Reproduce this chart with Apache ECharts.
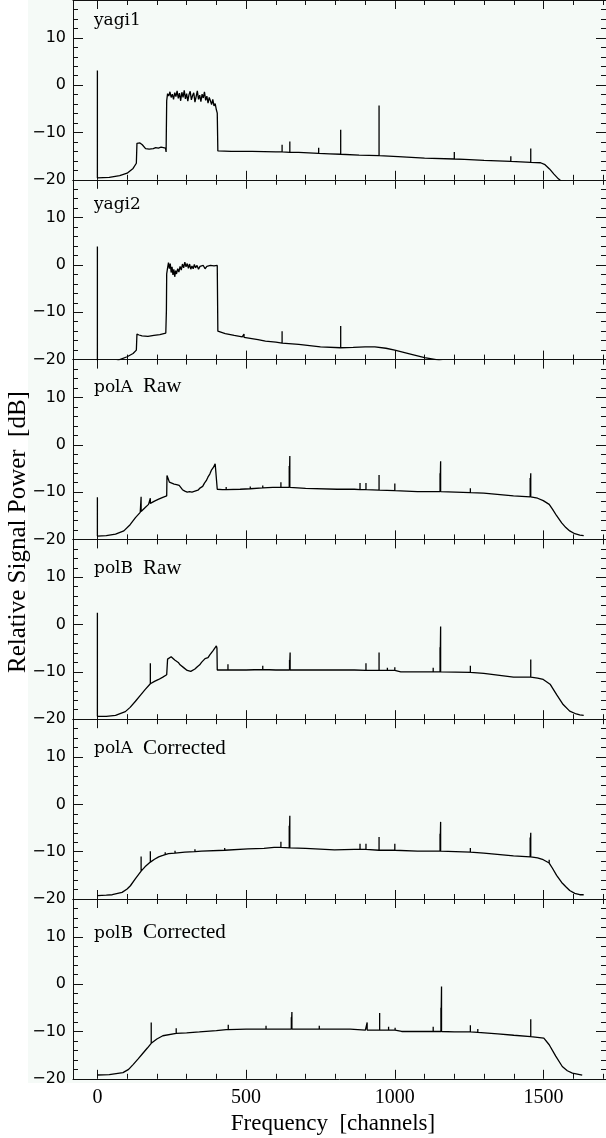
<!DOCTYPE html>
<html>
<head>
<meta charset="utf-8">
<script src="https://cdn.jsdelivr.net/npm/echarts@6/dist/echarts.min.js"></script>
<style>
html,body{margin:0;padding:0;background:#ffffff;}
#chart{width:606px;height:1138px;}
</style>
</head>
<body>
<div id="chart"></div>
<script>
// ---- data: [channel, dB] ----
const panelNames = ['yagi1', 'yagi2', 'polA', 'polB', 'polA', 'polB'];
const panelSuffix = ['', '', 'Raw', 'Raw', 'Corrected', 'Corrected'];
const xTickLabels = [0, 500, 1000, 1500];

const yagi1 = [[0,-19.6],[0,3.1],[0,-19.6],[40,-19.5],[75,-19.1],[100,-18.6],[120,-17.6],[131,-16.5],[133,-12.3],[138,-12.5],[143,-12.2],[147,-11.9],[151,-12.6],[156,-13.0],[162,-13.4],[168,-13.2],[174,-13.5],[180,-13.3],[188,-13.4],[196,-13.2],[205,-13.3],[214,-13.1],[222,-13.2],[229,-13.3],[231,-14.1],[233,-3.3],[236,-1.8],[240,-2.3],[244,-1.4],[248,-2.6],[252,-1.9],[256,-3.0],[260,-1.6],[264,-2.4],[268,-1.2],[272,-2.8],[276,-1.7],[280,-3.3],[284,-1.5],[288,-2.6],[292,-1.1],[296,-2.9],[300,-1.8],[304,-3.4],[308,-2.0],[312,-1.3],[316,-3.1],[320,-2.2],[324,-1.6],[328,-3.6],[332,-2.4],[336,-1.2],[340,-3.0],[344,-2.1],[348,-3.5],[352,-1.9],[356,-2.7],[360,-1.4],[364,-3.2],[368,-2.3],[372,-3.8],[376,-2.6],[380,-3.3],[384,-4.1],[388,-3.0],[392,-4.4],[396,-3.9],[400,-5.2],[403,-5.9],[405,-13.9],[450,-14.0],[520,-14.0],[600,-14.1],[621,-14.1],[621,-12.6],[621,-14.1],[647,-14.2],[647,-11.9],[647,-14.2],[677,-14.2],[744,-14.4],[744,-13.2],[744,-14.4],[780,-14.5],[818,-14.6],[818,-9.4],[818,-14.6],[880,-14.8],[947,-14.9],[947,-4.3],[947,-14.9],[1011,-15.1],[1100,-15.4],[1200,-15.6],[1200,-14.1],[1200,-15.6],[1234,-15.7],[1300,-15.9],[1390,-16.1],[1390,-15.0],[1390,-16.1],[1457,-16.3],[1457,-13.4],[1457,-16.3],[1490,-16.4],[1505,-16.8],[1520,-17.7],[1535,-18.8],[1550,-19.8],[1560,-20.3],[1700,-21]];

const yagi2 = [[0,-21],[0,3.9],[0,-21],[50,-21],[75,-20.0],[100,-19.4],[120,-18.7],[131,-18.0],[133,-14.6],[140,-14.8],[150,-15.0],[170,-15.1],[190,-14.9],[210,-14.7],[230,-14.4],[232,-9.7],[233,-1.9],[236,-0.6],[239,0.5],[242,-0.8],[245,0.3],[248,-1.6],[251,-0.4],[254,-2.1],[257,-0.9],[260,-2.5],[263,-1.2],[266,-1.9],[270,-0.8],[274,-1.5],[278,-0.3],[282,-1.1],[286,0.2],[290,-0.6],[294,0.6],[298,-0.4],[302,0.3],[306,-0.7],[310,0.2],[314,-0.9],[318,-0.2],[322,-0.8],[326,0.1],[330,-0.6],[335,-0.1],[340,-0.9],[345,-0.3],[350,-0.7],[356,-0.1],[362,-0.8],[368,-0.3],[374,-0.6],[380,-0.1],[386,-0.5],[392,-0.2],[398,-0.4],[403,-0.1],[405,-14.0],[430,-14.5],[460,-14.9],[487,-15.2],[493,-15.3],[493,-14.6],[493,-15.3],[540,-15.8],[565,-16.1],[600,-16.3],[621,-16.5],[621,-14.0],[621,-16.5],[677,-16.8],[750,-17.3],[818,-17.5],[818,-12.9],[818,-17.5],[860,-17.4],[900,-17.3],[933,-17.3],[970,-17.6],[1000,-18.0],[1056,-18.9],[1100,-19.6],[1139,-20.0],[1170,-20.6],[1700,-21]];

const polARaw = [[0,-19.3],[0,-11.1],[0,-19.3],[30,-19.2],[61,-18.9],[89,-18.2],[110,-16.9],[128,-15.4],[144,-14.3],[147,-14.1],[147,-11.0],[147,-14.1],[160,-13.3],[172,-12.6],[178,-12.4],[178,-11.3],[178,-12.4],[192,-11.9],[206,-11.5],[220,-11.1],[233,-10.8],[234,-6.5],[238,-7.2],[242,-7.9],[246,-7.5],[250,-8.1],[254,-7.7],[258,-8.3],[262,-7.9],[266,-8.4],[270,-8.0],[275,-8.6],[280,-8.9],[286,-9.5],[294,-9.8],[302,-10.0],[310,-9.9],[318,-10.0],[328,-9.8],[338,-9.6],[346,-9.1],[354,-8.8],[360,-8.1],[366,-7.6],[372,-6.8],[378,-6.2],[384,-5.3],[390,-4.8],[396,-4.0],[400,-3.7],[402,-4.2],[403,-9.4],[420,-9.5],[433,-9.5],[433,-8.9],[433,-9.5],[480,-9.4],[514,-9.3],[514,-8.8],[514,-9.3],[556,-9.1],[556,-8.6],[556,-9.1],[590,-9.0],[617,-9.0],[617,-7.9],[617,-9.0],[645,-9.0],[645,-4.5],[645,-9.0],[647,-9.0],[647,-2.4],[647,-9.0],[700,-9.2],[806,-9.4],[864,-9.4],[883,-9.5],[883,-8.1],[883,-9.5],[903,-9.5],[903,-8.1],[903,-9.5],[947,-9.6],[947,-6.4],[947,-9.6],[1000,-9.7],[1000,-8.2],[1000,-9.7],[1076,-9.9],[1152,-9.9],[1152,-6.0],[1152,-9.9],[1154,-9.9],[1154,-3.5],[1154,-9.9],[1254,-10.1],[1254,-9.2],[1254,-10.1],[1299,-10.2],[1399,-10.8],[1455,-11.0],[1455,-7.0],[1455,-11.0],[1457,-11.0],[1457,-6.0],[1457,-11.0],[1480,-11.3],[1499,-11.8],[1519,-12.6],[1530,-13.6],[1544,-15.0],[1561,-16.5],[1575,-17.5],[1588,-18.2],[1605,-18.8],[1622,-19.1],[1635,-19.2]];

const polBRaw = [[0,-19.4],[0,2.5],[0,-19.4],[30,-19.4],[61,-19.2],[94,-18.4],[110,-17.5],[128,-16.2],[145,-14.9],[161,-13.7],[178,-12.5],[178,-8.2],[178,-12.5],[192,-12.0],[206,-11.6],[220,-11.1],[233,-10.6],[236,-7.3],[242,-7.0],[248,-6.8],[254,-7.2],[260,-7.5],[266,-7.8],[272,-8.0],[278,-8.5],[284,-8.7],[290,-9.1],[296,-9.4],[302,-9.7],[308,-10.1],[314,-9.9],[320,-9.7],[328,-9.4],[336,-8.9],[344,-8.5],[350,-8.0],[356,-7.8],[362,-7.2],[368,-7.4],[372,-7.0],[378,-6.4],[384,-6.1],[389,-5.5],[394,-5.2],[400,-4.5],[402,-5.0],[403,-9.6],[420,-9.6],[439,-9.6],[439,-8.4],[439,-9.6],[500,-9.6],[556,-9.5],[556,-8.7],[556,-9.5],[600,-9.6],[646,-9.6],[646,-7.5],[646,-9.6],[648,-9.6],[648,-5.9],[648,-9.6],[700,-9.6],[806,-9.6],[864,-9.6],[903,-9.7],[903,-8.2],[903,-9.7],[947,-9.7],[947,-5.9],[947,-9.7],[975,-9.7],[975,-9.1],[975,-9.7],[1000,-9.7],[1000,-9.0],[1000,-9.7],[1020,-10.0],[1129,-10.0],[1129,-9.1],[1129,-10.0],[1152,-10.0],[1152,-4.8],[1152,-10.0],[1154,-10.0],[1154,-0.4],[1154,-10.0],[1254,-10.1],[1254,-8.7],[1254,-10.1],[1299,-10.3],[1399,-11.1],[1457,-11.1],[1457,-7.4],[1457,-11.1],[1480,-11.3],[1499,-11.6],[1522,-12.6],[1544,-14.8],[1566,-16.9],[1588,-18.3],[1610,-18.9],[1622,-19.1],[1635,-19.2]];

const polACorr = [[0,-19.3],[30,-19.2],[50,-19.1],[83,-18.6],[100,-17.9],[111,-17.2],[128,-15.7],[147,-14.1],[147,-11.0],[147,-14.1],[160,-13.2],[178,-12.2],[178,-9.9],[178,-12.2],[192,-11.6],[206,-11.1],[220,-10.8],[228,-10.6],[228,-10.1],[228,-10.6],[239,-10.4],[261,-10.3],[261,-9.8],[261,-10.3],[294,-10.1],[328,-10.0],[328,-9.5],[328,-10.0],[350,-9.9],[428,-9.7],[428,-9.2],[428,-9.7],[506,-9.4],[560,-9.3],[594,-9.1],[617,-9.1],[617,-7.9],[617,-9.1],[645,-9.2],[645,-4.5],[645,-9.2],[647,-9.2],[647,-2.4],[647,-9.2],[700,-9.3],[797,-9.6],[864,-9.5],[883,-9.5],[883,-8.3],[883,-9.5],[903,-9.5],[903,-8.3],[903,-9.5],[947,-9.7],[947,-6.9],[947,-9.7],[1000,-9.7],[1000,-8.3],[1000,-9.7],[1076,-9.9],[1152,-9.9],[1152,-6.2],[1152,-9.9],[1154,-9.9],[1154,-3.7],[1154,-9.9],[1254,-10.1],[1254,-9.2],[1254,-10.1],[1299,-10.3],[1399,-10.9],[1455,-11.1],[1455,-7.0],[1455,-11.1],[1457,-11.1],[1457,-6.0],[1457,-11.1],[1480,-11.3],[1499,-11.7],[1519,-12.4],[1519,-11.7],[1519,-12.4],[1530,-13.5],[1544,-15.0],[1561,-16.5],[1575,-17.4],[1588,-18.2],[1605,-18.8],[1622,-19.1],[1635,-19.1]];

const polBCorr = [[0,-19.2],[40,-19.1],[86,-18.7],[105,-18.0],[120,-17.0],[137,-15.8],[153,-14.6],[168,-13.5],[181,-12.5],[181,-8.1],[181,-12.5],[200,-11.6],[220,-10.9],[265,-10.4],[265,-9.3],[265,-10.4],[300,-10.3],[343,-10.1],[400,-9.8],[433,-9.6],[440,-9.6],[440,-8.6],[440,-9.6],[500,-9.5],[567,-9.5],[567,-8.8],[567,-9.5],[620,-9.5],[652,-9.5],[652,-7.0],[652,-9.5],[654,-9.5],[654,-5.9],[654,-9.5],[700,-9.5],[746,-9.5],[746,-8.8],[746,-9.5],[850,-9.5],[901,-9.7],[907,-9.7],[907,-8.1],[907,-9.7],[949,-9.7],[949,-6.1],[949,-9.7],[979,-9.7],[979,-9.0],[979,-9.7],[1001,-9.7],[1001,-9.2],[1001,-9.7],[1023,-10.0],[1100,-10.0],[1129,-10.0],[1129,-9.0],[1129,-10.0],[1155,-10.0],[1155,-5.0],[1155,-10.0],[1157,-10.0],[1157,-0.5],[1157,-10.0],[1200,-10.1],[1254,-10.1],[1254,-8.7],[1254,-10.1],[1279,-10.2],[1279,-9.5],[1279,-10.2],[1346,-10.5],[1400,-10.8],[1457,-11.1],[1457,-7.4],[1457,-11.1],[1501,-11.4],[1519,-12.8],[1541,-15.2],[1563,-17.4],[1580,-18.3],[1597,-18.8],[1630,-19.2]];

const seriesData = [yagi1, yagi2, polARaw, polBRaw, polACorr, polBCorr];

// ---- layout ----
const X_MIN = -82, X_MAX = 1710, Y_MIN = -20, Y_MAX = 18;
const GRID_LEFT = 73, GRID_W = 536, PANEL_H = 179.8;
const labelMid = [20.7, 204.7, 387.3, 569, 749, 933.3];
const INK = '#111';

const grids = [], xAxes = [], yAxes = [], series = [];
const minus = v => v < 0 ? '\u2212' + (-v) : String(v);

for (let k = 0; k < 6; k++) {
  grids.push({left: GRID_LEFT, top: k * PANEL_H, width: GRID_W, height: PANEL_H, containLabel: false});
  const last = k === 5;
  const xBase = {
    type: 'value', gridIndex: k, min: X_MIN, max: X_MAX, splitNumber: 4,
    axisLine: {show: true, onZero: false, lineStyle: {color: INK, width: 1}},
    axisTick: {show: true, inside: true, length: 9, lineStyle: {color: INK, width: 1}},
    minorTick: {show: true, splitNumber: 5, length: 5, lineStyle: {color: INK, width: 1}},
    splitLine: {show: false}, minorSplitLine: {show: false}
  };
  xAxes.push(Object.assign({}, xBase, {
    position: 'bottom',
    axisLabel: {show: last, margin: 9, color: '#000', fontFamily: 'Liberation Serif', fontSize: 20,
      showMinLabel: false, showMaxLabel: false,
      formatter: v => xTickLabels.indexOf(v) >= 0 ? String(v) : ''}
  }));
  xAxes.push(Object.assign({}, xBase, {position: 'top', axisLabel: {show: false}}));
  const yBase = {
    type: 'value', gridIndex: k, min: Y_MIN, max: Y_MAX, interval: 10,
    axisLine: {show: true, onZero: false, lineStyle: {color: INK, width: 1}},
    axisTick: {show: true, inside: true, length: 10, lineStyle: {color: INK, width: 1}},
    minorTick: {show: true, splitNumber: 5, length: 5, lineStyle: {color: INK, width: 1}},
    splitLine: {show: false}, minorSplitLine: {show: false}
  };
  yAxes.push(Object.assign({}, yBase, {
    position: 'left',
    axisLabel: {show: true, margin: 7, color: '#000', fontFamily: 'DejaVu Sans', fontSize: 16,
      showMaxLabel: false,
      formatter: v => v === Y_MAX ? '' : minus(v)}
  }));
  yAxes.push(Object.assign({}, yBase, {position: 'right', axisLabel: {show: false}}));
  series.push({
    type: 'line', xAxisIndex: 2 * k, yAxisIndex: 2 * k, data: seriesData[k],
    symbol: 'none', showSymbol: false, clip: true, animation: false, silent: true,
    lineStyle: {color: '#000', width: 1.3}
  });
}

const graphics = [
  {type: 'rect', z: -100, silent: true, shape: {x: 28, y: 0, width: 578, height: 1083}, style: {fill: '#f5faf7'}},
  {type: 'text', x: 333, y: 1124, silent: true, style: {text: 'Frequency  [channels]', font: '23px "Liberation Serif"', fill: '#000', textAlign: 'center', textVerticalAlign: 'middle'}},
  {type: 'text', x: 18, y: 532, rotation: Math.PI / 2, silent: true, style: {text: 'Relative Signal Power  [dB]', font: '25px "Liberation Serif"', fill: '#000', textAlign: 'center', textVerticalAlign: 'middle'}}
];
for (let k = 0; k < 6; k++) {
  graphics.push({type: 'text', x: 94, y: labelMid[k], silent: true,
    style: {text: panelNames[k], font: '17px "DejaVu Serif"', fill: '#000', textAlign: 'left', textVerticalAlign: 'middle'}});
  if (panelSuffix[k]) {
    graphics.push({type: 'text', x: 143, y: labelMid[k] - 1, silent: true,
      style: {text: panelSuffix[k], font: '21px "Liberation Serif"', fill: '#000', textAlign: 'left', textVerticalAlign: 'middle'}});
  }
}

const chart = echarts.init(document.getElementById('chart'), null, {renderer: 'canvas'});
chart.setOption({
  animation: false,
  backgroundColor: '#ffffff',
  grid: grids, xAxis: xAxes, yAxis: yAxes, series: series,
  graphic: graphics
});
</script>
</body>
</html>
